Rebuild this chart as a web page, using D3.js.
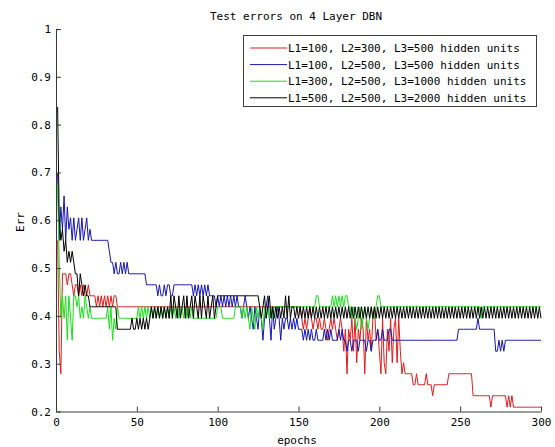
<!DOCTYPE html>
<html>
<head>
<meta charset="utf-8">
<script src="https://cdn.jsdelivr.net/npm/d3@7"></script>
<style>
  html, body { margin: 0; padding: 0; background: #fff; }
  svg { display: block; }
  text { font-family: "DejaVu Sans Mono", monospace; font-size: 11px; fill: #000; }
</style>
</head>
<body>
<svg id="chart"></svg>
<script>
const width = 555;
const height = 447;

// test error per epoch (300 epochs each)
const errRed = [ // L1=100, L2=300, L3=500
  0.558,0.326,0.279,0.488,0.488,0.488,0.465,0.488,0.488,0.465,
  0.442,0.465,0.465,0.442,0.465,0.442,0.465,0.442,0.442,0.465,
  0.442,0.442,0.442,0.442,0.419,0.442,0.419,0.442,0.419,0.442,
  0.419,0.442,0.419,0.442,0.419,0.442,0.442,0.419,0.419,0.419,
  0.419,0.419,0.419,0.419,0.419,0.419,0.419,0.419,0.419,0.419,
  0.419,0.419,0.419,0.419,0.419,0.419,0.419,0.419,0.419,0.419,
  0.419,0.419,0.419,0.419,0.419,0.419,0.419,0.419,0.419,0.419,
  0.419,0.419,0.419,0.419,0.419,0.419,0.419,0.419,0.419,0.419,
  0.419,0.419,0.419,0.419,0.419,0.419,0.419,0.419,0.419,0.419,
  0.419,0.419,0.419,0.419,0.419,0.419,0.419,0.419,0.419,0.419,
  0.419,0.419,0.419,0.419,0.419,0.419,0.419,0.419,0.419,0.419,
  0.419,0.419,0.419,0.419,0.419,0.419,0.419,0.419,0.419,0.419,
  0.419,0.419,0.419,0.419,0.419,0.419,0.419,0.419,0.419,0.419,
  0.419,0.419,0.419,0.419,0.419,0.419,0.419,0.419,0.419,0.419,
  0.419,0.419,0.419,0.419,0.419,0.419,0.419,0.419,0.419,0.419,
  0.419,0.395,0.372,0.395,0.372,0.395,0.419,0.395,0.372,0.395,
  0.395,0.372,0.395,0.372,0.372,0.395,0.372,0.349,0.372,0.395,
  0.372,0.395,0.372,0.349,0.372,0.395,0.372,0.326,0.372,0.279,
  0.372,0.349,0.395,0.326,0.395,0.302,0.372,0.349,0.395,0.372,
  0.279,0.395,0.349,0.372,0.326,0.395,0.419,0.349,0.372,0.326,
  0.279,0.395,0.302,0.279,0.372,0.326,0.395,0.302,0.372,0.395,
  0.302,0.395,0.326,0.279,0.302,0.279,0.279,0.279,0.279,0.279,
  0.256,0.256,0.279,0.256,0.256,0.256,0.256,0.256,0.279,0.256,
  0.256,0.256,0.233,0.256,0.256,0.256,0.256,0.256,0.256,0.256,
  0.256,0.256,0.279,0.279,0.279,0.279,0.279,0.279,0.279,0.279,
  0.279,0.279,0.279,0.279,0.279,0.279,0.279,0.233,0.233,0.233,
  0.233,0.233,0.233,0.233,0.233,0.233,0.233,0.233,0.209,0.233,
  0.233,0.233,0.233,0.233,0.233,0.233,0.233,0.233,0.209,0.233,
  0.209,0.233,0.209,0.209,0.209,0.209,0.209,0.209,0.209,0.209,
  0.209,0.209,0.209,0.209,0.209,0.209,0.209,0.209,0.209,0.209
];
const errBlue = [ // L1=100, L2=500, L3=500
  0.698,0.558,0.628,0.581,0.651,0.558,0.628,0.581,0.605,0.558,
  0.605,0.558,0.581,0.605,0.558,0.605,0.558,0.581,0.605,0.558,
  0.581,0.558,0.558,0.558,0.558,0.558,0.558,0.558,0.558,0.558,
  0.558,0.558,0.535,0.512,0.512,0.488,0.512,0.488,0.488,0.512,
  0.488,0.512,0.488,0.512,0.488,0.488,0.488,0.488,0.488,0.488,
  0.488,0.488,0.488,0.488,0.488,0.465,0.465,0.465,0.465,0.465,
  0.465,0.465,0.442,0.465,0.442,0.442,0.465,0.442,0.465,0.465,
  0.442,0.442,0.465,0.465,0.465,0.465,0.465,0.465,0.465,0.465,
  0.465,0.465,0.465,0.465,0.442,0.465,0.442,0.465,0.442,0.465,
  0.442,0.465,0.442,0.465,0.442,0.442,0.442,0.442,0.419,0.442,
  0.419,0.442,0.419,0.442,0.419,0.442,0.419,0.442,0.419,0.442,
  0.419,0.442,0.419,0.419,0.395,0.419,0.442,0.419,0.395,0.419,
  0.395,0.372,0.419,0.395,0.372,0.419,0.395,0.349,0.395,0.419,
  0.442,0.395,0.349,0.419,0.372,0.395,0.419,0.395,0.349,0.395,
  0.372,0.395,0.395,0.372,0.395,0.372,0.395,0.372,0.395,0.372,
  0.372,0.372,0.349,0.372,0.349,0.372,0.349,0.372,0.349,0.349,
  0.372,0.349,0.349,0.349,0.349,0.372,0.349,0.372,0.349,0.372,
  0.349,0.349,0.349,0.349,0.372,0.349,0.372,0.349,0.349,0.326,
  0.349,0.349,0.326,0.349,0.349,0.349,0.326,0.349,0.349,0.349,
  0.349,0.326,0.349,0.349,0.326,0.349,0.349,0.349,0.372,0.349,
  0.349,0.372,0.349,0.349,0.349,0.372,0.372,0.349,0.349,0.349,
  0.349,0.349,0.349,0.349,0.349,0.349,0.349,0.349,0.349,0.349,
  0.349,0.349,0.349,0.349,0.349,0.349,0.349,0.349,0.349,0.349,
  0.349,0.349,0.349,0.349,0.349,0.349,0.349,0.349,0.349,0.349,
  0.349,0.349,0.349,0.349,0.349,0.349,0.349,0.349,0.372,0.372,
  0.372,0.372,0.372,0.372,0.372,0.372,0.372,0.372,0.372,0.372,
  0.395,0.372,0.372,0.372,0.372,0.372,0.372,0.372,0.372,0.372,
  0.372,0.326,0.326,0.349,0.326,0.349,0.326,0.349,0.349,0.349,
  0.349,0.349,0.349,0.349,0.349,0.349,0.349,0.349,0.349,0.349,
  0.349,0.349,0.349,0.349,0.349,0.349,0.349,0.349,0.349,0.349
];
const errGreen = [ // L1=300, L2=500, L3=1000
  0.674,0.512,0.395,0.442,0.395,0.442,0.349,0.442,0.395,0.349,
  0.442,0.442,0.419,0.442,0.395,0.419,0.395,0.442,0.419,0.395,
  0.419,0.395,0.395,0.395,0.395,0.395,0.395,0.395,0.395,0.395,
  0.395,0.419,0.372,0.419,0.349,0.395,0.372,0.419,0.395,0.395,
  0.395,0.395,0.395,0.395,0.395,0.395,0.395,0.395,0.395,0.395,
  0.419,0.395,0.419,0.395,0.419,0.395,0.419,0.395,0.419,0.395,
  0.419,0.395,0.419,0.395,0.419,0.395,0.419,0.395,0.419,0.395,
  0.419,0.395,0.419,0.395,0.419,0.395,0.419,0.419,0.395,0.419,
  0.395,0.419,0.395,0.419,0.395,0.395,0.395,0.395,0.395,0.395,
  0.395,0.395,0.395,0.395,0.395,0.395,0.395,0.395,0.395,0.419,
  0.419,0.419,0.395,0.395,0.395,0.395,0.395,0.395,0.395,0.395,
  0.419,0.419,0.419,0.419,0.395,0.419,0.395,0.419,0.395,0.372,
  0.419,0.395,0.372,0.419,0.395,0.419,0.395,0.372,0.419,0.395,
  0.419,0.395,0.419,0.395,0.419,0.419,0.419,0.419,0.419,0.419,
  0.419,0.419,0.419,0.419,0.419,0.419,0.419,0.419,0.419,0.419,
  0.419,0.419,0.419,0.419,0.419,0.419,0.419,0.419,0.419,0.419,
  0.442,0.442,0.419,0.419,0.419,0.419,0.419,0.419,0.419,0.419,
  0.442,0.419,0.442,0.419,0.442,0.419,0.442,0.419,0.442,0.442,
  0.419,0.419,0.395,0.419,0.395,0.372,0.395,0.419,0.372,0.395,
  0.419,0.395,0.372,0.395,0.419,0.395,0.395,0.419,0.442,0.442,
  0.419,0.419,0.419,0.419,0.419,0.419,0.419,0.419,0.419,0.419,
  0.419,0.419,0.419,0.419,0.419,0.419,0.419,0.419,0.419,0.419,
  0.419,0.419,0.419,0.419,0.419,0.419,0.419,0.419,0.419,0.419,
  0.419,0.419,0.419,0.419,0.419,0.419,0.419,0.419,0.419,0.419,
  0.419,0.419,0.419,0.419,0.419,0.419,0.419,0.419,0.419,0.419,
  0.419,0.419,0.419,0.419,0.419,0.419,0.419,0.419,0.419,0.419,
  0.419,0.419,0.395,0.419,0.419,0.419,0.419,0.419,0.419,0.419,
  0.419,0.419,0.419,0.419,0.419,0.419,0.419,0.419,0.419,0.419,
  0.419,0.419,0.419,0.419,0.419,0.419,0.419,0.419,0.419,0.419,
  0.419,0.419,0.419,0.419,0.419,0.419,0.419,0.419,0.419,0.419
];
const errBlack = [ // L1=500, L2=500, L3=2000
  0.837,0.605,0.558,0.581,0.535,0.558,0.512,0.535,0.512,0.535,
  0.512,0.488,0.488,0.442,0.488,0.465,0.442,0.465,0.442,0.442,
  0.419,0.419,0.419,0.419,0.419,0.419,0.419,0.419,0.419,0.419,
  0.419,0.419,0.419,0.419,0.419,0.419,0.419,0.372,0.372,0.372,
  0.372,0.372,0.372,0.372,0.372,0.372,0.395,0.372,0.372,0.395,
  0.372,0.395,0.372,0.395,0.372,0.395,0.372,0.395,0.419,0.395,
  0.419,0.395,0.419,0.395,0.419,0.395,0.419,0.395,0.419,0.395,
  0.442,0.395,0.442,0.419,0.395,0.442,0.395,0.419,0.442,0.395,
  0.442,0.395,0.419,0.442,0.395,0.442,0.419,0.395,0.442,0.395,
  0.442,0.419,0.395,0.442,0.395,0.419,0.442,0.395,0.419,0.442,
  0.442,0.442,0.442,0.442,0.442,0.442,0.442,0.442,0.442,0.442,
  0.442,0.442,0.442,0.442,0.442,0.442,0.442,0.442,0.442,0.442,
  0.442,0.442,0.442,0.442,0.442,0.419,0.395,0.419,0.442,0.395,
  0.419,0.442,0.395,0.419,0.395,0.419,0.395,0.419,0.395,0.419,
  0.395,0.442,0.395,0.442,0.395,0.419,0.419,0.395,0.419,0.395,
  0.419,0.395,0.419,0.395,0.419,0.395,0.419,0.395,0.419,0.395,
  0.419,0.395,0.419,0.395,0.419,0.395,0.419,0.395,0.419,0.395,
  0.419,0.395,0.419,0.395,0.419,0.395,0.419,0.395,0.419,0.395,
  0.419,0.395,0.419,0.395,0.419,0.395,0.419,0.395,0.419,0.395,
  0.419,0.395,0.419,0.395,0.419,0.395,0.419,0.395,0.419,0.395,
  0.419,0.395,0.419,0.395,0.419,0.395,0.419,0.395,0.419,0.395,
  0.419,0.395,0.419,0.395,0.419,0.395,0.419,0.395,0.419,0.395,
  0.419,0.395,0.419,0.395,0.419,0.395,0.419,0.395,0.419,0.395,
  0.419,0.395,0.419,0.395,0.419,0.395,0.419,0.395,0.419,0.395,
  0.419,0.395,0.419,0.395,0.419,0.395,0.419,0.395,0.419,0.395,
  0.419,0.395,0.419,0.395,0.419,0.395,0.419,0.395,0.419,0.395,
  0.419,0.395,0.419,0.395,0.419,0.395,0.419,0.395,0.419,0.395,
  0.419,0.395,0.419,0.395,0.419,0.395,0.419,0.395,0.419,0.395,
  0.419,0.395,0.419,0.395,0.419,0.395,0.419,0.395,0.419,0.395,
  0.419,0.395,0.419,0.395,0.419,0.395,0.419,0.395,0.419,0.395
];

const seriesNames = [
  "L1=100, L2=300, L3=500 hidden units",
  "L1=100, L2=500, L3=500 hidden units",
  "L1=300, L2=500, L3=1000 hidden units",
  "L1=500, L2=500, L3=2000 hidden units"
];
const seriesColors = ["#e41a1a", "#1515b0", "#18e018", "#000000"];
const seriesValues = [errRed, errBlue, errGreen, errBlack];

const xTicks = [0, 50, 100, 150, 200, 250, 300];
const yTicks = [0.2, 0.3, 0.4, 0.5, 0.6, 0.7, 0.8, 0.9, 1];

const svg = d3.select("#chart").attr("width", width).attr("height", height);
svg.append("rect").attr("width", width).attr("height", height).attr("fill", "#fff");

const x = d3.scaleLinear().domain([0, 300]).range([56, 541]);
const y = d3.scaleLinear().domain([0.2, 1]).range([411.5, 29]);

// lines first, axes on top like matlab does
const line = d3.line()
  .x((d, i) => x(i + 1))
  .y(d => y(d));

seriesValues.forEach((vals, k) => {
  svg.append("path")
    .datum(vals)
    .attr("d", line)
    .attr("fill", "none")
    .attr("stroke", seriesColors[k])
    .attr("stroke-width", 1)
    .attr("stroke-linejoin", "miter");
});

const yAxis = svg.append("g")
  .attr("transform", `translate(${x(0)},0)`)
  .call(d3.axisLeft(y).tickValues(yTicks).tickSizeInner(-5).tickSizeOuter(0)
    .tickPadding(5).tickFormat(d3.format("~g")));
const xAxis = svg.append("g")
  .attr("transform", `translate(0,${y(0.2)})`)
  .call(d3.axisBottom(x).tickValues(xTicks).tickSizeInner(-5).tickSizeOuter(0)
    .tickPadding(7));

[xAxis, yAxis].forEach(g => {
  g.selectAll("path, line").attr("stroke", "#3a3a3a");
  g.selectAll("text").attr("font-family", "DejaVu Sans Mono").attr("font-size", 11).attr("fill", "#000");
});

svg.append("text")
  .attr("x", 296).attr("y", 20)
  .attr("text-anchor", "middle")
  .text("Test errors on 4 Layer DBN");

svg.append("text")
  .attr("x", 297).attr("y", 444)
  .attr("text-anchor", "middle")
  .text("epochs");

svg.append("text")
  .attr("transform", "translate(24,222) rotate(-90)")
  .attr("text-anchor", "middle")
  .text("Err");

// legend box
const legend = svg.append("g");
legend.append("rect")
  .attr("x", 243.5).attr("y", 35.5)
  .attr("width", 293).attr("height", 71)
  .attr("fill", "#fff")
  .attr("stroke", "#404040");

seriesNames.forEach((name, k) => {
  const ly = 48 + k * 16.6;
  legend.append("line")
    .attr("x1", 250).attr("x2", 287)
    .attr("y1", ly).attr("y2", ly)
    .attr("stroke", seriesColors[k]);
  legend.append("text")
    .attr("x", 288).attr("y", ly + 4)
    .text(name);
});
</script>
</body>
</html>
